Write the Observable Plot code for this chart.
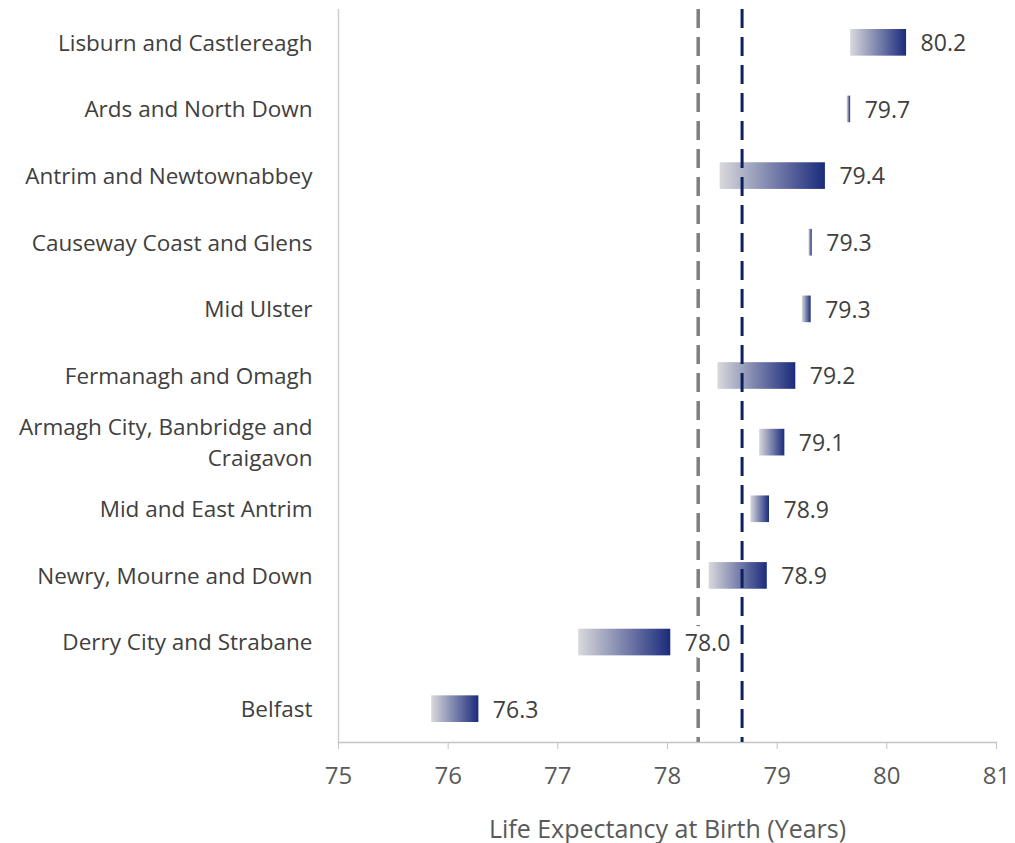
<!DOCTYPE html>
<html>
<head>
<meta charset="utf-8">
<script src="https://cdn.jsdelivr.net/npm/d3@7"></script>
<script src="https://cdn.jsdelivr.net/npm/@observablehq/plot@0.6"></script>
<style>
  html, body { margin: 0; padding: 0; background: #fff; }
  #chart svg { display: block; }
</style>
</head>
<body>
<div id="chart"></div>
<script>
const regions = [
  "Lisburn and Castlereagh",
  "Ards and North Down",
  "Antrim and Newtownabbey",
  "Causeway Coast and Glens",
  "Mid Ulster",
  "Fermanagh and Omagh",
  "Armagh City, Banbridge and Craigavon",
  "Mid and East Antrim",
  "Newry, Mourne and Down",
  "Derry City and Strabane",
  "Belfast"
];
const startValues = [79.67, 79.64, 78.48, 79.29, 79.23, 78.46, 78.84, 78.76, 78.38, 77.19, 75.85];
const endValues   = [80.18, 79.67, 79.44, 79.32, 79.31, 79.17, 79.07, 78.93, 78.91, 78.03, 76.28];
const regionLabels = {
  "Armagh City, Banbridge and Craigavon": "Armagh City, Banbridge and\nCraigavon"
};
const xTicks = [75, 76, 77, 78, 79, 80, 81];
const greyReference = [78.28];
const navyReference = [78.68];
const axisTitle = "Life Expectancy at Birth (Years)";

const data = regions.map((r, i) => ({region: r, start: startValues[i], end: endValues[i]}));

const font = "'Open Sans', 'Liberation Sans', sans-serif";

const gradientDefs = () => {
  const defs = d3.create("svg:defs");
  const g = defs.append("linearGradient").attr("id", "barGrad")
    .attr("x1", "0").attr("x2", "1").attr("y1", "0").attr("y2", "0");
  g.append("stop").attr("offset", "0%").attr("stop-color", "#d9d9dc");
  g.append("stop").attr("offset", "100%").attr("stop-color", "#1b2b7c");
  return defs.node();
};

const chart = Plot.plot({
  width: 1015,
  height: 843,
  marginLeft: 338,
  marginRight: 19,
  marginTop: 9,
  marginBottom: 101,
  style: {fontFamily: font, background: "#fff"},
  x: {domain: [75, 81]},
  y: {domain: regions, paddingInner: 0.6, paddingOuter: 0.3, round: false},
  marks: [
    gradientDefs,
    Plot.ruleX([75], {stroke: "#cfcfcf", strokeWidth: 1.5}),
    Plot.frame({anchor: "bottom", stroke: "#c4c4c4", strokeWidth: 1.5}),
    Plot.barX(data, {x1: "start", x2: "end", y: "region", fill: "url(#barGrad)"}),
    Plot.ruleX(greyReference, {stroke: "#7f7f7f", strokeWidth: 3.5, strokeDasharray: "19,9"}),
    Plot.ruleX(navyReference, {stroke: "#0d2060", strokeWidth: 3, strokeDasharray: "19,9"}),
    Plot.text(data, {x: "end", y: "region", text: d => d.end.toFixed(1), dx: 14, dy: 1,
      textAnchor: "start", fontSize: 23, fill: "#404040", stroke: "white", strokeWidth: 16}),
    Plot.axisY({tickSize: 0, tickPadding: 26, fontSize: 22.5, color: "#404040", dy: -2,
      tickFormat: d => regionLabels[d] ?? d, label: null, lineHeight: 1.38}),
    Plot.axisX({ticks: xTicks, tickSize: 7, tickPadding: 17, fontSize: 24, color: "#595959",
      stroke: "#c4c4c4", tickFormat: d => String(d),
      label: axisTitle, labelAnchor: "center", labelArrow: "none", labelOffset: 95})
  ]
});

document.getElementById("chart").appendChild(chart);
chart.querySelectorAll("g[aria-label='x-axis label'] text").forEach(t => t.setAttribute("font-size", 25));
</script>
</body>
</html>
